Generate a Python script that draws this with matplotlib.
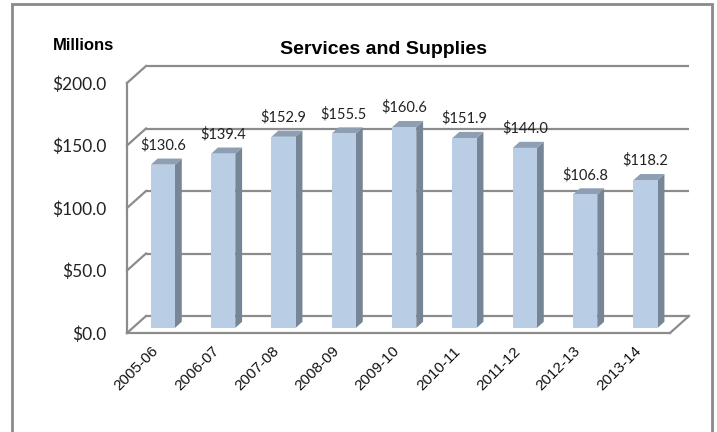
import matplotlib
matplotlib.use("Agg")
import matplotlib.pyplot as plt
from matplotlib.patches import Polygon, Rectangle
from matplotlib.transforms import ScaledTranslation

categories = ["2005-06", "2006-07", "2007-08", "2008-09", "2009-10",
              "2010-11", "2011-12", "2012-13", "2013-14"]
values = [130.6, 139.4, 152.9, 155.5, 160.6, 151.9, 144.0, 106.8, 118.2]
yticks = [0, 50, 100, 150, 200]
title = "Services and Supplies"
unit_label = "Millions"

W, H = 717, 432
fig = plt.figure(figsize=(W / 100, H / 100), dpi=100)
fig.patch.set_facecolor("white")

# front plane of the plot area in pixels
px_left, px_right, px_bottom, px_top = 127, 670, 333, 83
ax = fig.add_axes([px_left / W, 1 - px_bottom / H,
                   (px_right - px_left) / W, (px_bottom - px_top) / H])
ax.set_xlim(-0.5, len(categories) - 0.5)
ax.set_ylim(0, 200)
ax.patch.set_alpha(0)
for s in ax.spines.values():
    s.set_visible(False)

# depth offsets in data units
x_per_px = (len(categories)) / (px_right - px_left)
y_per_px = 200 / (px_bottom - px_top)
DX, DY = 19 * x_per_px, 17 * y_per_px

grid_c = "#8c8c8c"
x0, x1 = -0.5, len(categories) - 0.5
for v in yticks:
    ax.plot([x0 + DX, x1 + DX], [v + DY, v + DY], color=grid_c, lw=1.6,
            clip_on=False, zorder=1, solid_capstyle="butt")
    ax.plot([x0, x0 + DX], [v, v + DY], color=grid_c, lw=1.6,
            clip_on=False, zorder=1)
ax.plot([x0, x0], [0, 200], color=grid_c, lw=1.6, clip_on=False, zorder=1)
ax.plot([x0, x1], [0, 0], color=grid_c, lw=1.6, clip_on=False, zorder=1)
ax.plot([x1, x1 + DX], [0, DY], color=grid_c, lw=1.6, clip_on=False, zorder=1)

# bars
f0, bd, bw = 0.3, 0.36, 0.40
face_c, side_c, top_c = "#B9CDE5", "#768696", "#8E9FB3"
for i, v in enumerate(values):
    ox, oy = f0 * DX, f0 * DY
    xl, xr = i - bw / 2 + ox, i + bw / 2 + ox
    yb, yt = oy, oy + v
    dx, dy = bd * DX, bd * DY
    ax.add_patch(Polygon([(xr, yb), (xr + dx, yb + dy), (xr + dx, yt + dy), (xr, yt)],
                         closed=True, facecolor=side_c, edgecolor="none",
                         zorder=3, clip_on=False))
    ax.add_patch(Polygon([(xl, yt), (xr, yt), (xr + dx, yt + dy), (xl + dx, yt + dy)],
                         closed=True, facecolor=top_c, edgecolor="none",
                         zorder=3, clip_on=False))
    ax.bar(i + ox, v, width=bw, bottom=yb, color=face_c, edgecolor="none",
           zorder=4, clip_on=False)
    ax.text(i + ox, yt + dy + 5, f"${v:.1f}", ha="center", va="bottom",
            fontsize=10.5, family="Lato", color="#222222", zorder=5)

ax.set_yticks(yticks)
ax.set_yticklabels([f"${v:.1f}" for v in yticks], fontsize=12.5, family="Lato",
                   color="#222222")
ax.tick_params(axis="y", length=0, pad=14.5)
ax.set_xticks(range(len(categories)))
ax.set_xticklabels(categories, rotation=45, ha="right", va="top",
                   rotation_mode="anchor", fontsize=11, family="Liberation Sans",
                   color="#111111")
ax.tick_params(axis="x", length=0, pad=8)
shift = ScaledTranslation(-0.06, 0, fig.dpi_scale_trans)
for lbl in ax.get_xticklabels():
    lbl.set_transform(lbl.get_transform() + shift)

fig.text(384 / W, 1 - 49 / H, title, ha="center", va="center",
         fontsize=14, fontweight="bold", family="Liberation Sans")
fig.text(53 / W, 1 - 45 / H, unit_label, ha="left", va="center",
         fontsize=12, fontweight="bold", family="Liberation Sans")

fig.patches.append(Rectangle((12 / W, -0.1), (712 - 12) / W, 1 - 4 / H + 0.1,
                             transform=fig.transFigure, fill=False,
                             edgecolor="#8a8a8a", lw=2))

fig.savefig("out.png", dpi=100)
